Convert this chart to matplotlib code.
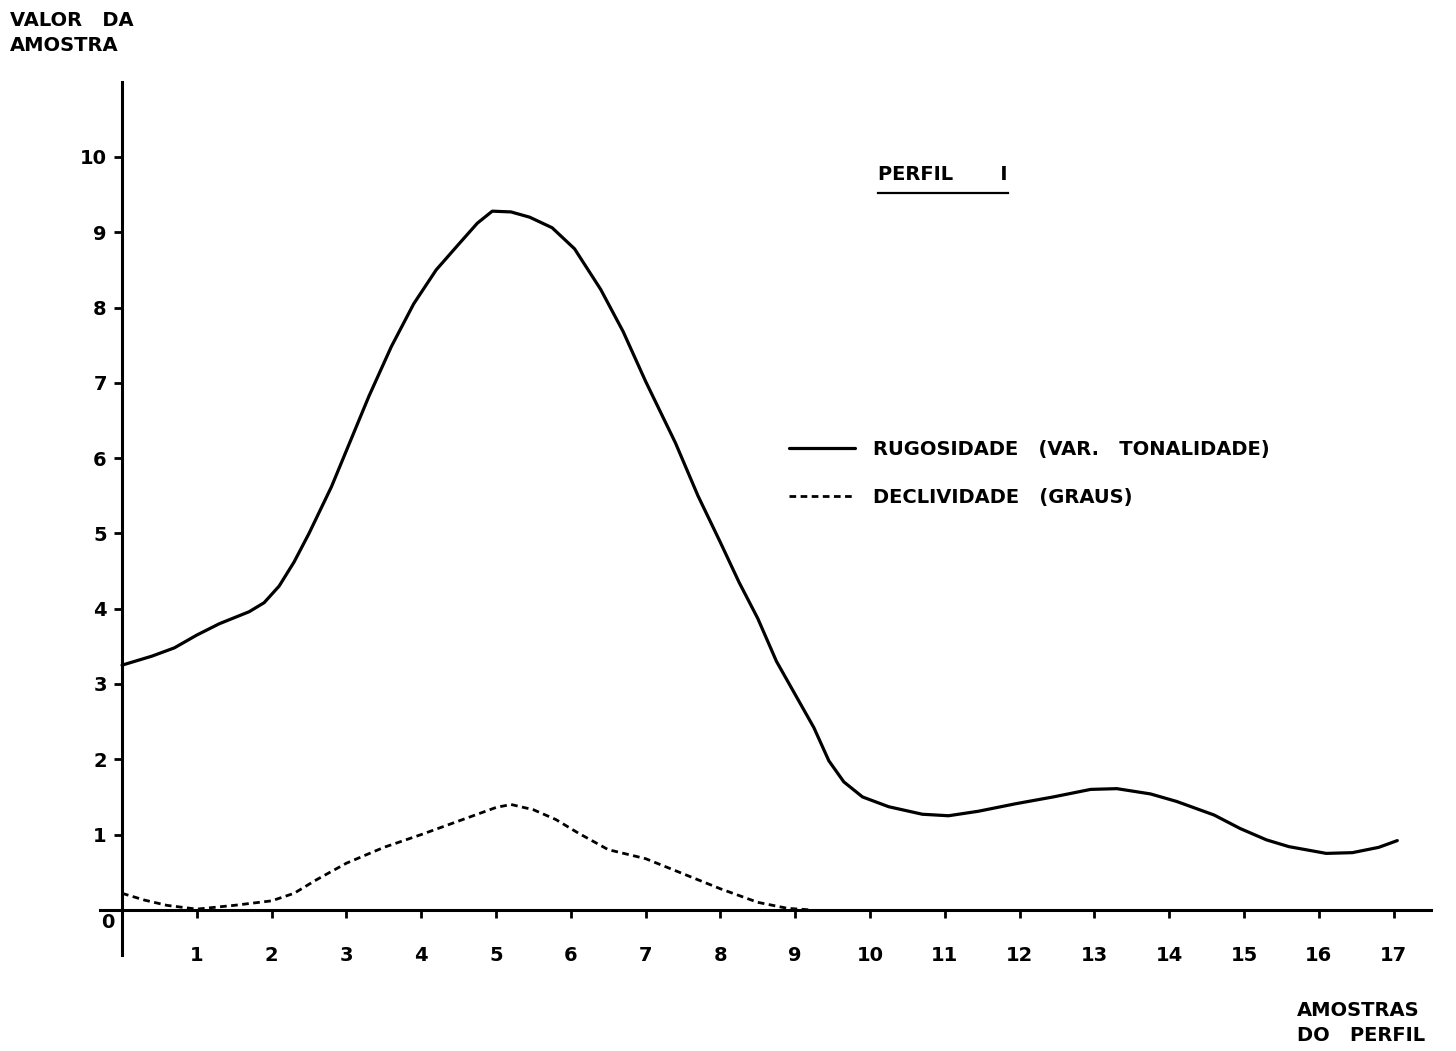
import matplotlib
matplotlib.use("Agg")
import matplotlib.pyplot as plt
from matplotlib.lines import Line2D

#######################################################
# DATA

rug_x = [0.0, 0.4, 0.7, 1.0, 1.3, 1.7, 1.9, 2.1, 2.3, 2.5, 2.8, 3.05, 3.3,
         3.6, 3.9, 4.2, 4.5, 4.75, 4.95, 5.2, 5.45, 5.75, 6.05, 6.4, 6.7,
         7.0, 7.4, 7.7, 8.0, 8.25, 8.5, 8.75, 9.0, 9.25, 9.45, 9.65, 9.9,
         10.25, 10.7, 11.05, 11.45, 11.95, 12.45, 12.95, 13.3, 13.75, 14.1,
         14.6, 14.95, 15.3, 15.6, 16.1, 16.45, 16.8, 17.05]
rug_y = [3.25, 3.37, 3.48, 3.65, 3.80, 3.96, 4.08, 4.30, 4.62, 5.00, 5.62,
         6.22, 6.82, 7.48, 8.05, 8.50, 8.84, 9.12, 9.28, 9.27, 9.20, 9.06,
         8.78, 8.24, 7.68, 7.02, 6.20, 5.50, 4.88, 4.35, 3.87, 3.30, 2.86,
         2.42, 1.98, 1.70, 1.50, 1.37, 1.27, 1.25, 1.31, 1.41, 1.50, 1.60,
         1.61, 1.54, 1.44, 1.26, 1.08, 0.93, 0.84, 0.75, 0.76, 0.83, 0.92]

dec_x = [0.0, 0.3, 0.6, 1.0, 1.5, 2.0, 2.3, 2.6, 3.0, 3.5, 4.0, 4.5, 5.0,
         5.2, 5.5, 5.8, 6.1, 6.5, 7.0, 7.5, 8.0, 8.5, 8.9, 9.2]
dec_y = [0.22, 0.13, 0.06, 0.01, 0.06, 0.12, 0.22, 0.40, 0.62, 0.83, 1.00,
         1.18, 1.36, 1.40, 1.33, 1.20, 1.02, 0.80, 0.68, 0.48, 0.28, 0.10,
         0.02, 0.0]

x_ticks = list(range(1, 18))
y_ticks = list(range(1, 11))

rug_label = "RUGOSIDADE   (VAR.   TONALIDADE)"
dec_label = "DECLIVIDADE   (GRAUS)"

#######################################################
# FIGURE

plt.rcParams["font.family"] = "DejaVu Sans"
plt.rcParams["font.weight"] = "bold"

fig = plt.figure(figsize=(14.56, 10.51), dpi=100)
ax = fig.add_axes([0.0684, 0.0913, 0.9144, 0.831])

ax.plot(rug_x, rug_y, color="black", lw=2.3, solid_capstyle="round",
        solid_joinstyle="round", label=rug_label)
ax.plot(dec_x, dec_y, color="black", lw=2.0, dashes=(2.4, 1.6),
        label=dec_label)

ax.set_xlim(-0.3, 17.5)
ax.set_ylim(-0.6, 11.0)

ax.spines["left"].set_position(("data", 0))
ax.spines["bottom"].set_position(("data", 0))
ax.spines["top"].set_visible(False)
ax.spines["right"].set_visible(False)
ax.spines["left"].set_linewidth(2.2)
ax.spines["bottom"].set_linewidth(2.2)

ax.set_xticks(x_ticks)
ax.set_xticklabels([str(v) for v in x_ticks])
ax.set_yticks(y_ticks)
ax.set_yticklabels([str(v) for v in y_ticks])
ax.tick_params(axis="x", direction="out", length=6, width=2, pad=20,
               labelsize=14)
ax.tick_params(axis="y", direction="out", length=6, width=2, pad=5,
               labelsize=14)

ax.text(-0.1, -0.17, "0", ha="right", va="center", fontsize=14,
        fontweight="bold")

# title with underline
fig.text(0.603, 0.8335, "PERFIL       I", ha="left", va="center",
         fontsize=14, fontweight="bold")
fig.add_artist(Line2D([0.603, 0.692], [0.8164, 0.8164], color="black",
                      lw=1.6, transform=fig.transFigure))

leg = ax.legend(loc="upper left", bbox_to_anchor=(0.530, 0.598),
                bbox_transform=fig.transFigure, frameon=False, fontsize=14,
                handlelength=3.4, handletextpad=0.9, labelspacing=1.5)

# axis titles
fig.text(0.007, 0.990, "VALOR   DA\nAMOSTRA", ha="left", va="top",
         fontsize=14, fontweight="bold", linespacing=1.45)
fig.text(0.891, 0.048, "AMOSTRAS\nDO   PERFIL", ha="left", va="top",
         fontsize=14, fontweight="bold", linespacing=1.45)

plt.savefig("out.png", dpi=100)
plt.close()
